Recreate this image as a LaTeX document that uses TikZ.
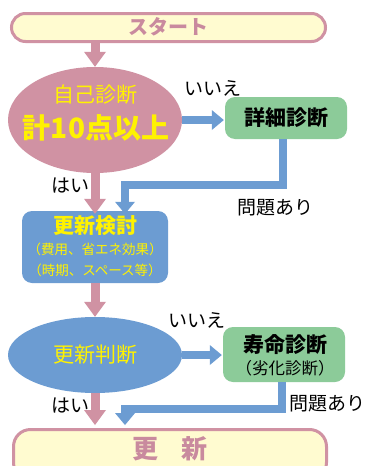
\documentclass[tikz,border=0pt]{standalone}
\usepackage{fontspec}
\setmainfont{Noto Sans CJK JP}
\usetikzlibrary{arrows.meta,shapes.geometric}
\definecolor{pk}{HTML}{D092A3}
\definecolor{bl}{HTML}{6C9CD2}
\definecolor{gr}{HTML}{8CCB99}
\definecolor{cr}{HTML}{FFFBD0}
\definecolor{yt}{HTML}{FFF200}
\definecolor{ptxt}{HTML}{C98A9E}
\newcommand{\fs}[1]{\fontsize{#1}{#1}\selectfont}
\begin{document}
\begin{tikzpicture}[x=1pt,y=-1pt,
  pkarrow/.style={draw=pk,line width=9pt,-{Triangle[width=22pt,length=15pt,line width=0pt]}},
  blarrow/.style={draw=bl,line width=8pt,line join=miter,-{Triangle[width=20pt,length=12pt,line width=0pt]}},
  pill/.style={draw=pk,line width=3pt,fill=cr,rounded corners=14pt,inner sep=0pt},
  oval/.style={ellipse,inner sep=0pt,minimum width=174pt},
  rbox/.style={rectangle,rounded corners=10pt,inner sep=0pt},
  lbl/.style={inner sep=0pt,text=black,font=\fs{19}},
  ytxt/.style={inner sep=0pt,text=yt},
]
\useasboundingbox (0,0) rectangle (368,466);
\clip (0,0) rectangle (368,466);
\fill[white] (0,0) rectangle (368,466);
% shapes
\node[pill,minimum width=314pt,minimum height=28pt] (start) at (168.5,27.5) {};
\node[inner sep=0pt,text=ptxt,font=\fs{20}\bfseries] (startt) at (168,27) {スタート};
\node[oval,fill=pk,minimum height=106pt] (e1) at (95,120) {};
\node[ytxt,font=\fs{21}] (e1a) at (95,95) {自己診断};
\node[ytxt,font=\fs{28}\bfseries] (e1b) at (96,128) {計10点以上};
\node[rbox,fill=gr,minimum width=122pt,minimum height=42pt] (g1) at (286,118) {};
\node[inner sep=0pt,font=\fs{21}\bfseries] (g1t) at (286,118) {詳細診断};
\node[rbox,fill=bl,minimum width=146pt,minimum height=72pt] (b2) at (95,247) {};
\node[ytxt,font=\fs{21}\bfseries] (b2a) at (95,226) {更新検討};
\node[ytxt,font=\fs{13.5}] (b2b) at (95,249) {（費用、省エネ効果）};
\node[ytxt,font=\fs{13.5}] (b2c) at (95,270) {（時期、スペース等）};
\node[oval,fill=bl,minimum height=76pt] (e2) at (95,355) {};
\node[ytxt,font=\fs{21}] (e2t) at (95,355) {更新判断};
\node[rbox,fill=gr,minimum width=122pt,minimum height=55pt] (g2) at (284,354.5) {};
\node[inner sep=0pt,font=\fs{21}\bfseries] (g2a) at (285,345) {寿命診断};
\node[inner sep=0pt,font=\fs{16.5}] (g2b) at (285,368) {（劣化診断）};
\node[pill,rounded corners=17pt,minimum width=313pt,minimum height=50pt] (end) at (170,454.5) {};
\node[inner sep=0pt,text=ptxt,font=\fs{26}\bfseries] (endt) at (170,449) {更\hspace{0.85em}新};
% labels
\node[lbl] (no1) at (213,88) {いいえ};
\node[lbl] (yes1) at (70,186) {はい};
\node[lbl] (pr1) at (275,208) {問題あり};
\node[lbl] (no2) at (197,320) {いいえ};
\node[lbl] (yes2) at (70,406) {はい};
\node[lbl] (pr2) at (327,404) {問題あり};
% connectors
\draw[pkarrow] (start.south -| e1.north) -- (e1.north);
\draw[pkarrow] (e1.south) -- ([yshift=-3pt]b2.north);
\draw[pkarrow] (b2.south) -- (e2.north);
\draw[pkarrow] (e2.south) -- ([yshift=3pt]end.north -| e2.south);
\draw[blarrow] (e1.east) -- ([xshift=-1pt]e1.east -| g1.west);
\draw[blarrow] (e2.east) -- ([xshift=-1pt]e2.east -| g2.west);
\draw[blarrow] ([xshift=-3pt]g1.south) -- ++(0,46) -| ([xshift=30pt,yshift=-3pt]b2.north);
\draw[blarrow] ([xshift=-2pt]g2.south) -- ++(0,27) -| ([xshift=-45pt,yshift=3pt]end.north);
\end{tikzpicture}
\end{document}
